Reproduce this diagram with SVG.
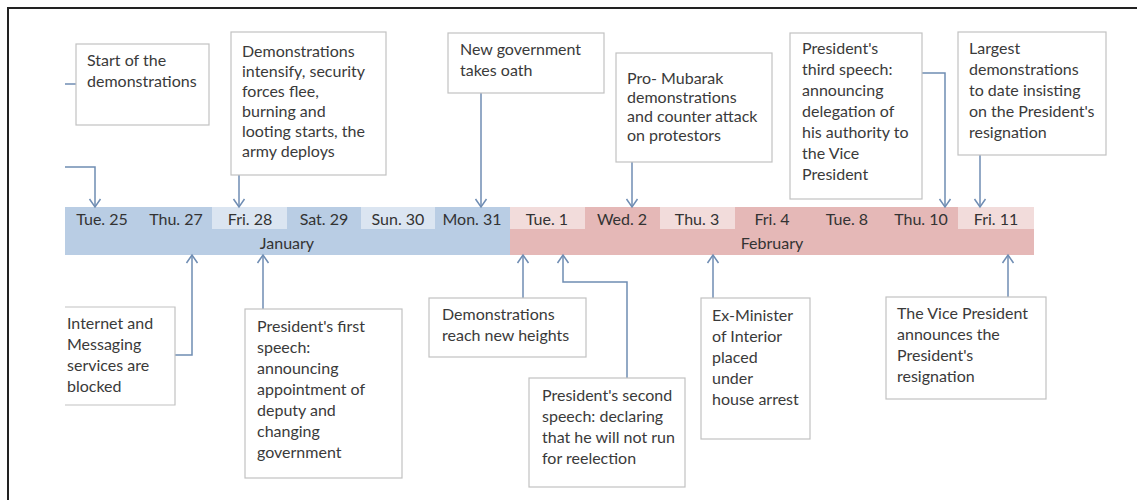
<svg xmlns="http://www.w3.org/2000/svg" width="1137" height="500" viewBox="0 0 1137 500">
<defs>
<style>
.t{font-family:Lato,"Liberation Sans",sans-serif;font-size:16px;fill:#3a3a3a}
.d{font-family:Lato,"Liberation Sans",sans-serif;font-size:16px;fill:#333;text-anchor:middle}
.box{fill:#fff;stroke:#c2c2c2;stroke-width:1.2}
.c{fill:none;stroke:#6f8db3;stroke-width:1.5}
.ca{fill:none;stroke:#6f8db3;stroke-width:1.5;marker-end:url(#arr)}
.frame{stroke:#222;stroke-width:2;fill:none}
</style>
<marker id="arr" viewBox="-10 -7 12 14" markerWidth="12" markerHeight="14" refX="0" refY="0" orient="auto" markerUnits="userSpaceOnUse">
<path d="M-8,-5.5 L0,0 L-8,5.5" fill="none" stroke="#6f8db3" stroke-width="1.5"/>
</marker>
</defs>
<rect width="1137" height="500" fill="#fff"/>
<path class="frame" d="M8,500 L8,8 L1137,8"/>

<g id="timeline">
<rect x="65" y="207" width="445" height="48" fill="#b9cde4"/>
<rect x="510" y="207" width="524" height="48" fill="#e5b8b7"/>
<rect x="212" y="207" width="75" height="22" fill="#dbe5f1"/>
<rect x="361" y="207" width="74" height="22" fill="#dbe5f1"/>
<rect x="510" y="207" width="75" height="22" fill="#f2dcdb"/>
<rect x="660" y="207" width="75" height="22" fill="#f2dcdb"/>
<rect x="958" y="207" width="76" height="22" fill="#f2dcdb"/>
<text class="d" x="102" y="225">Tue. 25</text>
<text class="d" x="176" y="225">Thu. 27</text>
<text class="d" x="250" y="225">Fri. 28</text>
<text class="d" x="324" y="225">Sat. 29</text>
<text class="d" x="398" y="225">Sun. 30</text>
<text class="d" x="472" y="225">Mon. 31</text>
<text class="d" x="547" y="225">Tue. 1</text>
<text class="d" x="622" y="225">Wed. 2</text>
<text class="d" x="697" y="225">Thu. 3</text>
<text class="d" x="772" y="225">Fri. 4</text>
<text class="d" x="847" y="225">Tue. 8</text>
<text class="d" x="921" y="225">Thu. 10</text>
<text class="d" x="996" y="225">Fri. 11</text>
<text class="d" x="287" y="249">January</text>
<text class="d" x="772" y="249">February</text>
</g>

<g id="connectors">
<path class="c" d="M65,84 L76,84"/>
<path class="ca" d="M65,167 L95,167 L95,207"/>
<path class="ca" d="M239,175 L239,207"/>
<path class="ca" d="M481,93 L481,207"/>
<path class="ca" d="M632,162 L632,207"/>
<path class="ca" d="M922,73 L945,73 L945,207"/>
<path class="ca" d="M980,155 L980,207"/>
<path class="ca" d="M175,355 L192,355 L192,255"/>
<path class="ca" d="M263,309 L263,255"/>
<path class="ca" d="M523,298 L523,255"/>
<path class="ca" d="M627,378 L627,282 L563,282 L563,255"/>
<path class="ca" d="M713,298 L713,255"/>
<path class="ca" d="M1008,297 L1008,255"/>
</g>

<g id="n1"><rect class="box" x="76" y="44" width="133" height="81"/>
<text class="t" x="87"><tspan x="87" y="66">Start of the</tspan><tspan x="87" y="87">demonstrations</tspan></text></g>

<g id="n2"><rect class="box" x="231" y="32" width="155" height="143"/>
<text class="t"><tspan x="242" y="57">Demonstrations</tspan><tspan x="242" y="77">intensify, security</tspan><tspan x="242" y="97">forces flee,</tspan><tspan x="242" y="117">burning and</tspan><tspan x="242" y="137">looting starts, the</tspan><tspan x="242" y="157">army deploys</tspan></text></g>

<g id="n3"><rect class="box" x="448" y="33" width="156" height="60"/>
<text class="t"><tspan x="460" y="55">New government</tspan><tspan x="460" y="76">takes oath</tspan></text></g>

<g id="n4"><rect class="box" x="616" y="53" width="156" height="109"/>
<text class="t"><tspan x="627" y="84">Pro- Mubarak</tspan><tspan x="627" y="103">demonstrations</tspan><tspan x="627" y="122">and counter attack</tspan><tspan x="627" y="141">on protestors</tspan></text></g>

<g id="n5"><rect class="box" x="790" y="33" width="132" height="166"/>
<text class="t"><tspan x="802" y="54">President's</tspan><tspan x="802" y="75">third speech:</tspan><tspan x="802" y="96">announcing</tspan><tspan x="802" y="117">delegation of</tspan><tspan x="802" y="138">his authority to</tspan><tspan x="802" y="159">the Vice</tspan><tspan x="802" y="180">President</tspan></text></g>

<g id="n6"><rect class="box" x="958" y="32" width="148" height="123"/>
<text class="t"><tspan x="969" y="54">Largest</tspan><tspan x="969" y="75">demonstrations</tspan><tspan x="969" y="96">to date insisting</tspan><tspan x="969" y="117">on the President's</tspan><tspan x="969" y="138">resignation</tspan></text></g>

<g id="n7"><path class="box" d="M65,307 L175,307 L175,405 L65,405"/>
<text class="t"><tspan x="67" y="329">Internet and</tspan><tspan x="67" y="350">Messaging</tspan><tspan x="67" y="371">services are</tspan><tspan x="67" y="392">blocked</tspan></text></g>

<g id="n8"><rect class="box" x="245" y="309" width="157" height="169"/>
<text class="t"><tspan x="257" y="332">President's first</tspan><tspan x="257" y="353">speech:</tspan><tspan x="257" y="374">announcing</tspan><tspan x="257" y="395">appointment of</tspan><tspan x="257" y="416">deputy and</tspan><tspan x="257" y="437">changing</tspan><tspan x="257" y="458">government</tspan></text></g>

<g id="n9"><rect class="box" x="429" y="298" width="157" height="59"/>
<text class="t"><tspan x="442" y="320">Demonstrations</tspan><tspan x="442" y="341">reach new heights</tspan></text></g>

<g id="n10"><rect class="box" x="529" y="378" width="156" height="109"/>
<text class="t"><tspan x="542" y="401">President's second</tspan><tspan x="542" y="422">speech: declaring</tspan><tspan x="542" y="443">that he will not run</tspan><tspan x="542" y="464">for reelection</tspan></text></g>

<g id="n11"><rect class="box" x="701" y="298" width="109" height="141"/>
<text class="t"><tspan x="712" y="321">Ex-Minister</tspan><tspan x="712" y="342">of Interior</tspan><tspan x="712" y="363">placed</tspan><tspan x="712" y="384">under</tspan><tspan x="712" y="405">house arrest</tspan></text></g>

<g id="n12"><rect class="box" x="886" y="297" width="160" height="102"/>
<text class="t"><tspan x="897" y="319">The Vice President</tspan><tspan x="897" y="340">announces the</tspan><tspan x="897" y="361">President's</tspan><tspan x="897" y="382">resignation</tspan></text></g>
</svg>
